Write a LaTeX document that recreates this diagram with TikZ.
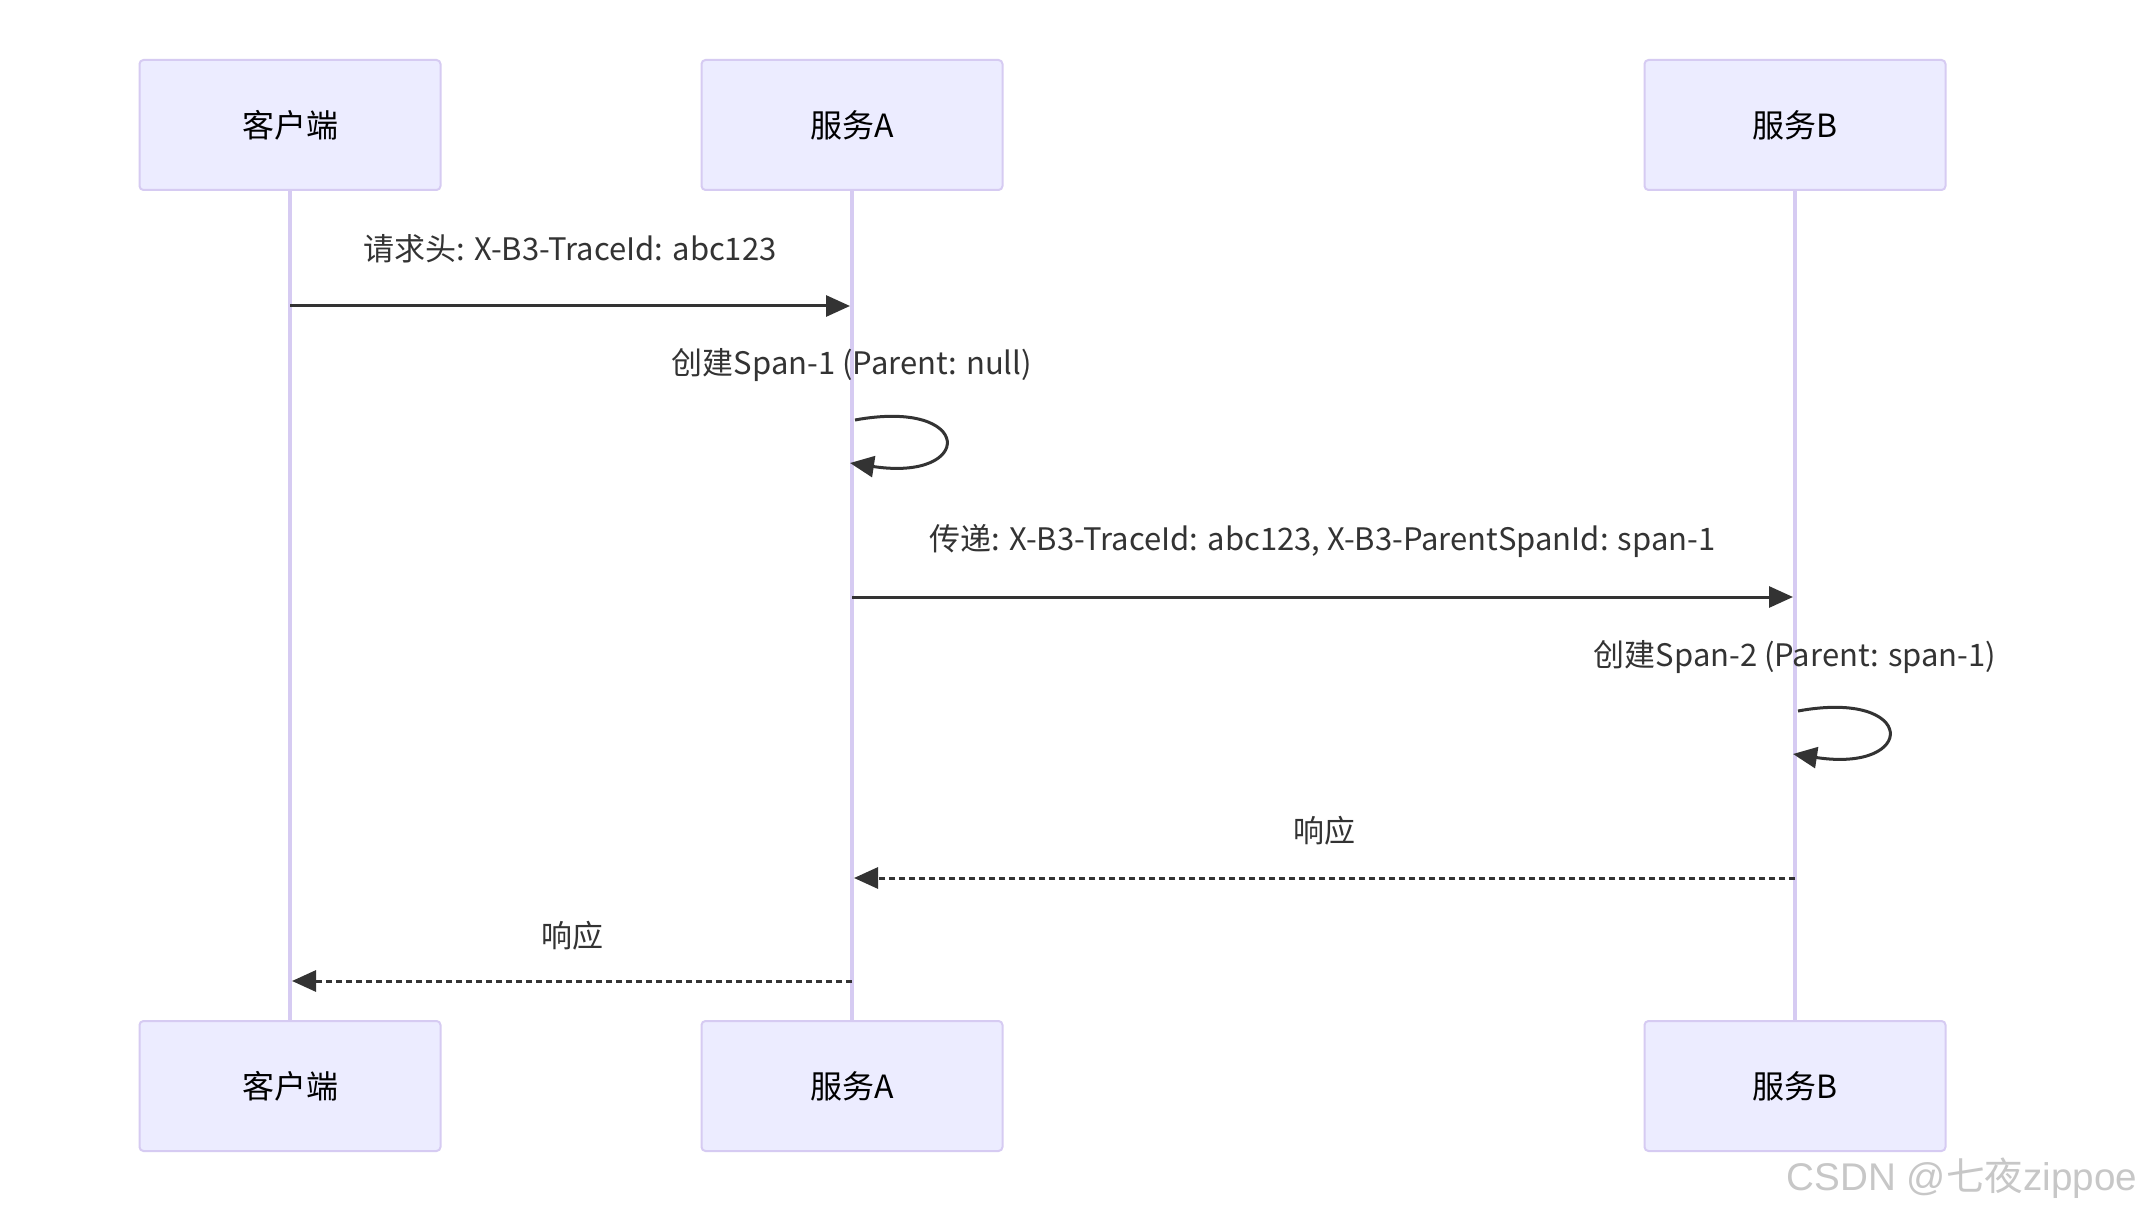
\documentclass[tikz,border=0pt]{standalone}
\usepackage{fontspec}
\setmainfont{Noto Sans CJK SC}
\newfontfamily\wmfont{Liberation Sans}
\newfontfamily\wmcjk{Noto Sans CJK SC}
\usepackage{xcolor}
\usepackage{tikz}
\usetikzlibrary{arrows.meta, positioning, calc}
\definecolor{actorfill}{HTML}{ECECFF}
\definecolor{actorline}{HTML}{D6CBF2}
\definecolor{msgline}{HTML}{333333}

\begin{document}
\begin{tikzpicture}[x=0.5pt, y=-0.5pt,
    actor/.style={draw=actorline, fill=actorfill, line width=1pt, rounded corners=2pt,
      minimum width=150.5pt, minimum height=65pt, font=\fontsize{16}{19}\selectfont},
    life/.style={draw=actorline, line width=2pt},
    msg/.style={draw=msgline, line width=1.5pt, -{Triangle[length=12pt 0,width=10.5pt 0]}},
    reply/.style={msg, dash pattern=on 3pt off 2pt},
    lbl/.style={text=msgline, font=\fontsize{15.5}{18}\selectfont}]
  \useasboundingbox (0,0) rectangle (2144,1214);
  \fill[white] (0,0) rectangle (2144,1214);

  % actors
  \node[actor] (kh) at (290,125) {客户端};
  \node[actor] (fa) at (852,125) {服务A};
  \node[actor] (fb) at (1795,125) {服务B};
  \node[actor] (khb) at (290,1086) {客户端};
  \node[actor] (fab) at (852,1086) {服务A};
  \node[actor] (fbb) at (1795,1086) {服务B};

  % lifelines
  \draw[life] (kh) -- (khb);
  \draw[life] (fa) -- (fab);
  \draw[life] (fb) -- (fbb);

  % message points
  \coordinate (m1a) at (kh |- 0,306);
  \coordinate (m1b) at ($(fa |- 0,306)+(-2,0)$);
  \coordinate (s1a) at ($(fa |- 0,420)+(3,0)$);
  \coordinate (s1b) at ($(fa |- 0,463)+(-2,0)$);
  \coordinate (m2a) at (fa |- 0,597);
  \coordinate (m2b) at ($(fb |- 0,597)+(-2,0)$);
  \coordinate (s2a) at ($(fb |- 0,711)+(3,0)$);
  \coordinate (s2b) at ($(fb |- 0,754)+(-2,0)$);
  \coordinate (r1a) at (fb |- 0,878);
  \coordinate (r1b) at ($(fa |- 0,878)+(2,0)$);
  \coordinate (r2a) at (fa |- 0,981);
  \coordinate (r2b) at ($(kh |- 0,981)+(2,0)$);

  % messages
  \node[lbl] (t1) at ($(m1a)!0.5!(m1b)+(0,-57)$) {请求头: X-B3-TraceId: abc123};
  \draw[msg] (m1a) -- (m1b);
  \node[lbl] (t2) at ($(fa |- 0,365)$) {创建Span-1 (Parent: null)};
  \draw[msg] (s1a) .. controls (975,398) and (975,482) .. (s1b);
  \node[lbl] (t3) at ($(m2a)!0.5!(m2b)+(0,-56)$) {传递: X-B3-TraceId: abc123, X-B3-ParentSpanId: span-1};
  \draw[msg] (m2a) -- (m2b);
  \node[lbl] (t4) at ($(fb |- 0,657)$) {创建Span-2 (Parent: span-1)};
  \draw[msg] (s2a) .. controls (1918,689) and (1918,773) .. (s2b);
  \node[lbl] (t5) at ($(r1a)!0.5!(r1b)+(0,-47)$) {响应};
  \draw[reply] (r1a) -- (r1b);
  \node[lbl] (t6) at ($(r2a)!0.5!(r2b)+(0,-45)$) {响应};
  \draw[reply] (r2a) -- (r2b);

  % watermark
  \node[text=black!22, font=\fontsize{19.3}{22}\selectfont] (wm) at (1962,1178)
    {{\wmfont CSDN @}{\wmcjk 七夜}{\wmfont zippoe}};
\end{tikzpicture}
\end{document}
